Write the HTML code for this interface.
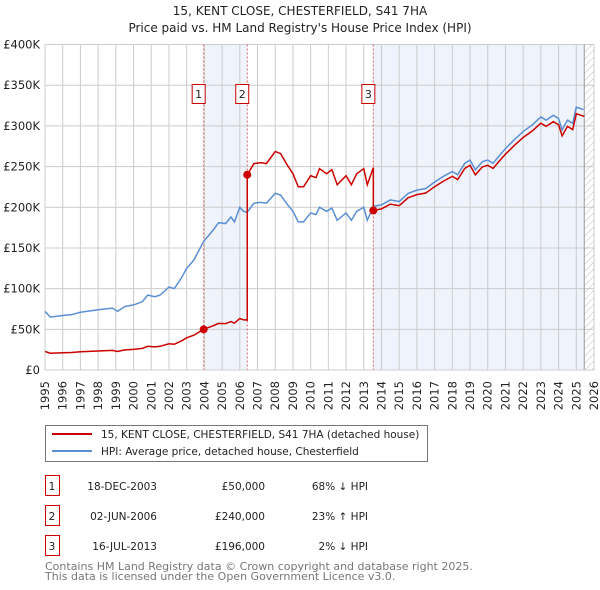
<!DOCTYPE html>
<html><head><meta charset="utf-8">
<style>
body{margin:0;background:#fff;font-family:"DejaVu Sans","Liberation Sans",sans-serif;}
svg{display:block}
</style></head>
<body>
<svg id="chart" width="600" height="590" viewBox="0 0 600 590" xmlns="http://www.w3.org/2000/svg" font-family="DejaVu Sans, Liberation Sans, sans-serif">
<text x="300" y="15" text-anchor="middle" font-size="12" fill="#222">15, KENT CLOSE, CHESTERFIELD, S41 7HA</text>
<text x="300" y="32" text-anchor="middle" font-size="12" fill="#222">Price paid vs. HM Land Registry's House Price Index (HPI)</text>
<defs>
<pattern id="hatch" width="5" height="5" patternUnits="userSpaceOnUse" patternTransform="rotate(45)">
<line x1="0" y1="0" x2="0" y2="5" stroke="#bbb" stroke-width="1"/>
</pattern>
</defs>
<g id="plot"></g>
<g id="legend">
<rect x="45.5" y="425.5" width="382" height="36" fill="#fff" stroke="#777"/>
<line x1="52" y1="434" x2="92" y2="434" stroke="#cc0000" stroke-width="2"/>
<text x="101" y="438" font-size="10.5" fill="#222">15, KENT CLOSE, CHESTERFIELD, S41 7HA (detached house)</text>
<line x1="52" y1="451" x2="92" y2="451" stroke="#5b8fd4" stroke-width="2"/>
<text x="101" y="455" font-size="10.5" fill="#222">HPI: Average price, detached house, Chesterfield</text>
</g>
<g id="table" font-size="10.5" fill="#222"></g>
<text x="45" y="570" font-size="11" fill="#777">Contains HM Land Registry data © Crown copyright and database right 2025.</text>
<text x="45" y="580" font-size="11" fill="#777">This data is licensed under the Open Government Licence v3.0.</text>
</svg>
<script>
const hpiYears=[1995,1995.3,1996,1996.5,1997,1998,1998.8,1999.1,1999.5,2000,2000.5,2000.8,2001.2,2001.5,2002,2002.3,2002.7,2003,2003.4,2003.96,2004.5,2004.8,2005.2,2005.5,2005.7,2006,2006.2,2006.42,2006.8,2007.2,2007.5,2008,2008.3,2008.7,2009,2009.3,2009.6,2010,2010.3,2010.5,2010.9,2011.2,2011.5,2012,2012.3,2012.6,2013,2013.2,2013.54,2014,2014.5,2015,2015.5,2016,2016.5,2017,2017.5,2018,2018.3,2018.7,2019,2019.3,2019.7,2020,2020.3,2020.6,2021,2021.5,2022,2022.5,2023,2023.3,2023.7,2024,2024.2,2024.5,2024.8,2025,2025.4];
const hpiValues=[72,65,67,68,71,74,76,72,78,80,84,92,90,92,102,100,113,125,135,158,172,181,180,188,182,200,195,194,205,206,205,217,215,203,195,182,182,193,191,200,195,199,184,193,184,195,200,184,201,203,209,207,217,221,223,231,238,244,240,254,258,246,256,258,254,262,272,283,293,301,311,307,313,309,295,307,303,323,320];
const saleYears=[2003.96,2006.42,2013.54];
const salePrices=[50,240,196];
const saleLabels=["1","2","3"];
const saleDates=["18-DEC-2003","02-JUN-2006","16-JUL-2013"];
const salePriceText=["£50,000","£240,000","£196,000"];
const saleDiffText=["68% ↓ HPI","23% ↑ HPI","2% ↓ HPI"];
const yTicks=[0,50,100,150,200,250,300,350,400];
const yTickLabels=["£0","£50K","£100K","£150K","£200K","£250K","£300K","£350K","£400K"];
const xTicks=[1995,1996,1997,1998,1999,2000,2001,2002,2003,2004,2005,2006,2007,2008,2009,2010,2011,2012,2013,2014,2015,2016,2017,2018,2019,2020,2021,2022,2023,2024,2025,2026];

const NS="http://www.w3.org/2000/svg";
const X0=45,X1=594,Y0=370,Y1=44.5,dataEnd=2025.45;
const xs=y=>X0+(y-1995)/(2026-1995)*(X1-X0);
const ys=v=>Y0-v/400*(Y0-Y1);
const plot=document.getElementById('plot');
function mk(tag,attrs,parent){const e=document.createElementNS(NS,tag);for(const k in attrs)e.setAttribute(k,attrs[k]);(parent||plot).appendChild(e);return e;}
function hpiAt(t){for(let i=0;i<hpiYears.length-1;i++){if(t<=hpiYears[i+1]){const f=(t-hpiYears[i])/(hpiYears[i+1]-hpiYears[i]);return hpiValues[i]+f*(hpiValues[i+1]-hpiValues[i]);}}return hpiValues[hpiValues.length-1];}

let r=mk('rect',{x:xs(saleYears[0]),y:Y1,width:xs(saleYears[1])-xs(saleYears[0]),height:Y0-Y1,fill:'#eef3fc'});


r=mk('rect',{x:xs(saleYears[2]),y:Y1,width:xs(dataEnd)-xs(saleYears[2]),height:Y0-Y1,fill:'#eef3fc'});


yTicks.forEach((v,i)=>{
 const l=mk('line',{x1:X0,x2:X1,y1:ys(v),y2:ys(v),stroke:'#ccc','stroke-width':1});
 
 
 const t=mk('text',{x:X0-5,y:ys(v)+4,'text-anchor':'end','font-size':11.5,fill:'#222'});
 t.textContent=yTickLabels[i];
 
 
});
xTicks.forEach(y=>{
 const l=mk('line',{x1:xs(y),x2:xs(y),y1:Y1,y2:Y0,stroke:'#ccc','stroke-width':1});
 
 
 const t=mk('text',{x:0,y:0,'text-anchor':'end','font-size':11.5,fill:'#222',transform:`translate(${xs(y)+4},${Y0+11}) rotate(-90)`});
 t.textContent=y;
 
 
});
r=mk('rect',{x:xs(dataEnd),y:Y1,width:X1-xs(dataEnd),height:Y0-Y1,fill:'url(#hatch)'});


const bl=mk('line',{x1:xs(dataEnd),x2:xs(dataEnd),y1:Y1,y2:Y0,stroke:'#999','stroke-width':1});


saleYears.forEach((s,i)=>{
 const l=mk('line',{x1:xs(s),x2:xs(s),y1:Y1,y2:Y0,stroke:'#e06060','stroke-width':1,'stroke-dasharray':'2,2'});
 
 
});
const hp=mk('polyline',{points:hpiYears.map((y,i)=>xs(y)+','+ys(hpiValues[i])).join(' '),fill:'none',stroke:'#5b8fd4','stroke-width':1.5});


const pts=[];
const segStart=[1995,...saleYears];
for(let k=0;k<segStart.length;k++){
 const a=segStart[k], b=k<saleYears.length?saleYears[k]:dataEnd;
 const refIdx=k===0?0:k-1;
 const ref=saleYears[refIdx], refP=salePrices[refIdx], refH=hpiAt(ref);
 const ts=[a,...hpiYears.filter(t=>t>a&&t<b),b];
 ts.forEach(t=>{ pts.push([t,refP*hpiAt(t)/refH]); });
}
const pp=mk('polyline',{points:pts.map(p=>xs(p[0])+','+ys(p[1])).join(' '),fill:'none',stroke:'#cc0000','stroke-width':1.5});


saleYears.forEach((s,i)=>{
 const c=mk('circle',{cx:xs(s),cy:ys(salePrices[i]),r:4,fill:'#cc0000'});
 
 
 const b=mk('rect',{x:xs(s)-11.5,y:84.5,width:13,height:19,fill:'#fff',stroke:'#cc0000'});
 
 
 const t=mk('text',{x:xs(s)-5,y:98,'text-anchor':'middle','font-size':11,fill:'#222'});
 t.textContent=saleLabels[i];
 
 
});
const tb=document.getElementById('table');
saleLabels.forEach((lab,i)=>{
 const y=476+i*30;
 const b=mk('rect',{x:45.5,y:y-0.5,width:14,height:20,fill:'#fff',stroke:'#cc0000'},tb);
 
 
 const cells=[[52,'middle',lab,'badge-number'],[157,'end',saleDates[i],'date'],[265,'end',salePriceText[i],'price'],[368,'end',saleDiffText[i],'hpi-diff']];
 cells.forEach(c=>{
  const t=mk('text',{x:c[0],y:y+14,'text-anchor':c[1]},tb);
  t.textContent=c[2];
  
  
 });
});
const ax=mk('line',{x1:X0,x2:X1,y1:Y0,y2:Y0,stroke:'#ccc'});


</script>
</body></html>
